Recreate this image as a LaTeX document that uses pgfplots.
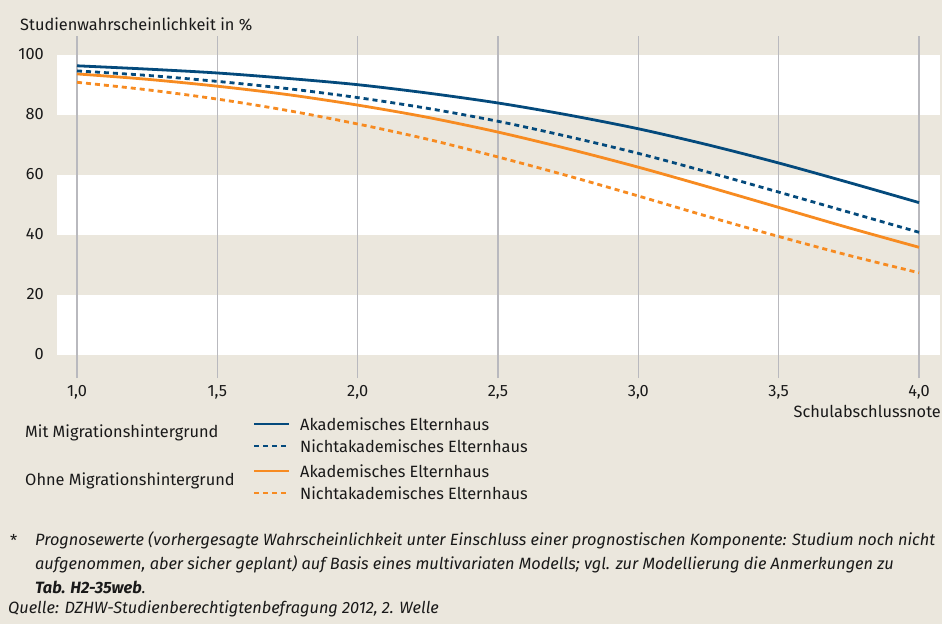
\documentclass[border=0pt]{standalone}
\usepackage{fontspec}
\setmainfont{Fira Sans}
\usepackage{pgfplots}
\pgfplotsset{compat=1.18}
\definecolor{bgc}{RGB}{235,231,221}
\definecolor{blueline}{RGB}{4,74,124}
\definecolor{orangeline}{RGB}{247,139,33}
\definecolor{gridc}{RGB}{185,185,190}
\definecolor{txt}{RGB}{25,25,25}
\newcommand{\fs}{\fontsize{16.4}{19}\selectfont}
\begin{document}
\begin{tikzpicture}[x=1bp,y=1bp]
\fill[bgc] (0,0) rectangle (942,-624);
\begin{axis}[
  at={(57bp,-378bp)}, anchor=south west,
  scale only axis, width=883bp, height=342bp,
  xmin=0.9287, xmax=4.0748, ymin=-7.67, ymax=106.33,
  axis line style={draw=none}, tick style={draw=none},
  xtick={1,1.5,2,2.5,3,3.5,4}, ytick={0,20,40,60,80,100},
  /pgf/number format/assume math mode=true,
  x tick label style={/pgf/number format/fixed, /pgf/number format/fixed zerofill, /pgf/number format/precision=1, /pgf/number format/use comma,
    font=\fs, text=txt, anchor=north, inner sep=0pt, yshift=-7bp},
  y tick label style={font=\fs, text=txt, anchor=east, inner sep=0pt, xshift=-13bp, yshift=1bp},
  clip=false,
]
\fill[white] (axis cs:0.9287,0) rectangle (axis cs:4.0748,20);
\fill[white] (axis cs:0.9287,40) rectangle (axis cs:4.0748,60);
\fill[white] (axis cs:0.9287,80) rectangle (axis cs:4.0748,100);
\pgfplotsinvokeforeach{1,1.5,2,2.5,3,3.5,4}{
  \draw[gridc, line width=1.4bp] (axis cs:#1,-7.67) -- (axis cs:#1,106.33);
}
% Ohne Migration, nichtakademisch
\addplot[orangeline, line width=2.8bp, dash pattern=on 5bp off 4bp, smooth] coordinates {
(1.00,90.9) (1.25,88.4) (1.50,85.3) (1.75,81.5) (2.00,77.0) (2.25,71.9) (2.50,66.0)
(2.75,59.7) (3.00,53.0) (3.25,46.1) (3.50,39.5) (3.75,33.2) (4.00,27.4)};
% Ohne Migration, akademisch
\addplot[orangeline, line width=2.8bp, smooth] coordinates {
(1.00,93.7) (1.25,91.9) (1.50,89.6) (1.75,86.8) (2.00,83.3) (2.25,79.2) (2.50,74.3)
(2.75,68.7) (3.00,62.6) (3.25,56.0) (3.50,49.2) (3.75,42.4) (4.00,35.9)};
% Mit Migration, nichtakademisch
\addplot[blueline, line width=2.8bp, dash pattern=on 5bp off 4bp, smooth] coordinates {
(1.00,94.7) (1.25,93.2) (1.50,91.2) (1.75,88.8) (2.00,85.8) (2.25,82.2) (2.50,77.9)
(2.75,72.8) (3.00,67.2) (3.25,60.9) (3.50,54.3) (3.75,47.6) (4.00,40.9)};
% Mit Migration, akademisch
\addplot[blueline, line width=2.8bp, smooth] coordinates {
(1.00,96.4) (1.25,95.3) (1.50,94.0) (1.75,92.2) (2.00,90.1) (2.25,87.3) (2.50,84.0)
(2.75,80.0) (3.00,75.4) (3.25,70.0) (3.50,64.0) (3.75,57.5) (4.00,50.8)};
\end{axis}
\node[anchor=west, inner sep=0pt, text=txt, font=\fs] at (20,-24) {Studienwahrscheinlichkeit in \%};
\node[anchor=east, inner sep=0pt, text=txt, font=\fs] at (941,-411) {Schulabschlussnote};
% legend
\node[anchor=west, inner sep=0pt, text=txt, font=\fs] at (25,-433) {Mit Migrationshintergrund};
\node[anchor=west, inner sep=0pt, text=txt, font=\fs] at (25,-481) {Ohne Migrationshintergrund};
\draw[blueline, line width=2.8bp] (254,-424) -- (289,-424);
\draw[blueline, line width=2.8bp, dash pattern=on 5bp off 4bp] (254,-446) -- (289,-446);
\draw[orangeline, line width=2.8bp] (254,-471) -- (289,-471);
\draw[orangeline, line width=2.8bp, dash pattern=on 5bp off 4bp] (254,-493) -- (289,-493);
\node[anchor=west, inner sep=0pt, text=txt, font=\fs] at (300,-424) {Akademisches Elternhaus};
\node[anchor=west, inner sep=0pt, text=txt, font=\fs] at (300,-446) {Nichtakademisches Elternhaus};
\node[anchor=west, inner sep=0pt, text=txt, font=\fs] at (300,-471) {Akademisches Elternhaus};
\node[anchor=west, inner sep=0pt, text=txt, font=\fs] at (300,-493) {Nichtakademisches Elternhaus};
% footnote
\node[anchor=west, inner sep=0pt, text=txt, font=\fs] at (10,-540) {*};
\node[anchor=west, inner sep=0pt, text=txt, font=\fs\itshape] at (35,-540) {Prognosewerte (vorhergesagte Wahrscheinlichkeit unter Einschluss einer prognostischen Komponente: Studium noch nicht};
\node[anchor=west, inner sep=0pt, text=txt, font=\fs\itshape] at (35,-564) {aufgenommen, aber sicher geplant) auf Basis eines multivariaten Modells; vgl. zur Modellierung die Anmerkungen zu};
\node[anchor=west, inner sep=0pt, text=txt, font=\fs\itshape] at (35,-587) {\textbf{Tab. H2-35web}.};
\node[anchor=west, inner sep=0pt, text=txt, font=\fs\itshape] at (8,-609) {Quelle: DZHW-Studienberechtigtenbefragung 2012, 2. Welle};
\end{tikzpicture}
\end{document}
